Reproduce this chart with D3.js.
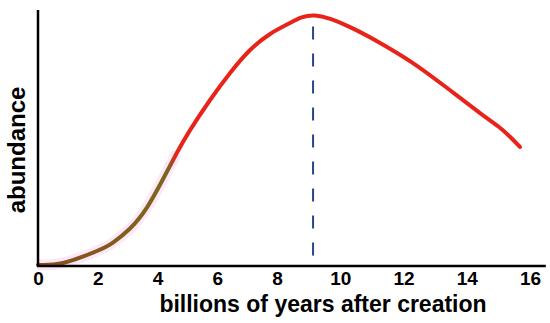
<!doctype html>
<html>
<head>
    <script src="https://cdnjs.cloudflare.com/ajax/libs/d3/7.8.5/d3.min.js"></script>
    <style>
      body { margin: 0; background: #fff; }
      text {
        font-family: "Liberation Sans", Arial, sans-serif;
        font-weight: bold;
        fill: #000;
      }
    </style>
</head>
<body>
    <svg id="chart" width="550" height="323"></svg>
    <script>
    // curve (years, abundance 0-100)
    var years = [0, 0.84, 1.97, 2.51, 3.08, 3.65, 4.2, 4.65, 5.09, 5.76, 6.43, 7.1, 7.77, 8.41, 9.2, 10.31, 11.26, 12.3, 13.38, 14.42, 15.0, 15.4, 15.68];
    var abundance = [0, 0.8, 5.5, 8.8, 14.3, 22.6, 34, 44, 52.9, 64.7, 75.3, 84.3, 90.6, 94.9, 97.8, 93.3, 87.1, 79.2, 69.4, 59.6, 54.3, 49.9, 46.3];
    var xTicks = [0, 2, 4, 6, 8, 10, 12, 14, 16];
    var peakYear = 9.14;
    var colorSwitch = 4.45;  // where the early brown part turns red

    var svg = d3.select("#chart");

    // tick labels are not evenly spaced in the original, so a polylinear scale
    var x = d3.scaleLinear().domain([0, 8, 16]).range([38, 277, 530]);
    var y = d3.scaleLinear().domain([0, 100]).range([265, 10]);

    var data = years.map(function(d, i) { return {x: d, y: abundance[i]}; });

    var line = d3.line()
        .x(function(d) { return x(d.x); })
        .y(function(d) { return y(d.y); })
        .curve(d3.curveNatural);

    // gradient along x: brown -> olive -> red
    var grad = svg.append("defs").append("linearGradient")
        .attr("id", "lineGrad")
        .attr("gradientUnits", "userSpaceOnUse")
        .attr("x1", x(0)).attr("x2", x(16)).attr("y1", 0).attr("y2", 0);
    var sw = (x(colorSwitch) - x(0)) / (x(16) - x(0));
    grad.append("stop").attr("offset", 0).attr("stop-color", "#8c4a1c");
    grad.append("stop").attr("offset", sw * 0.75).attr("stop-color", "#7f621e");
    grad.append("stop").attr("offset", sw - 0.005).attr("stop-color", "#7c6520");
    grad.append("stop").attr("offset", sw + 0.01).attr("stop-color", "#e8231a");
    grad.append("stop").attr("offset", 1).attr("stop-color", "#e8231a");

    // pale pink halo around the early part
    var early = data.filter(function(d) { return d.x <= colorSwitch + 0.3; });
    svg.append("path")
        .datum(early)
        .attr("d", line)
        .attr("fill", "none")
        .attr("stroke", "#fbd9f3")
        .attr("stroke-opacity", 0.6)
        .attr("stroke-width", 11);

    // dashed marker at the peak
    svg.append("line")
        .attr("x1", x(peakYear)).attr("x2", x(peakYear))
        .attr("y1", y(93.5)).attr("y2", y(1))
        .attr("stroke", "#2b4687")
        .attr("stroke-width", 2)
        .attr("stroke-dasharray", "13,14");

    svg.append("path")
        .datum(data)
        .attr("d", line)
        .attr("fill", "none")
        .attr("stroke", "url(#lineGrad)")
        .attr("stroke-width", 4)
        .attr("stroke-linecap", "round");

    // axes
    svg.append("line")
        .attr("x1", x(0)).attr("x2", x(0))
        .attr("y1", y(100)).attr("y2", y(0) + 1)
        .attr("stroke", "#000").attr("stroke-width", 2.5);
    svg.append("line")
        .attr("x1", x(0) - 1).attr("x2", x(16.5))
        .attr("y1", y(0) + 1).attr("y2", y(0) + 1)
        .attr("stroke", "#000").attr("stroke-width", 2.5);

    var xAxis = d3.axisBottom(x).tickValues(xTicks).tickSize(0).tickPadding(6);
    var gx = svg.append("g")
        .attr("transform", "translate(0," + (y(0) + 1) + ")")
        .call(xAxis);
    gx.select(".domain").remove();
    gx.selectAll("text")
        .style("font-size", "19px")
        .style("font-family", "'Liberation Sans', Arial, sans-serif")
        .style("font-weight", "bold");

    svg.append("text")
        .attr("x", 323)
        .attr("y", 312)
        .attr("text-anchor", "middle")
        .style("font-size", "23px")
        .text("billions of years after creation");

    svg.append("text")
        .attr("transform", "translate(25,150) rotate(-90)")
        .attr("text-anchor", "middle")
        .style("font-size", "24px")
        .text("abundance");
    </script>
</body>
</html>
